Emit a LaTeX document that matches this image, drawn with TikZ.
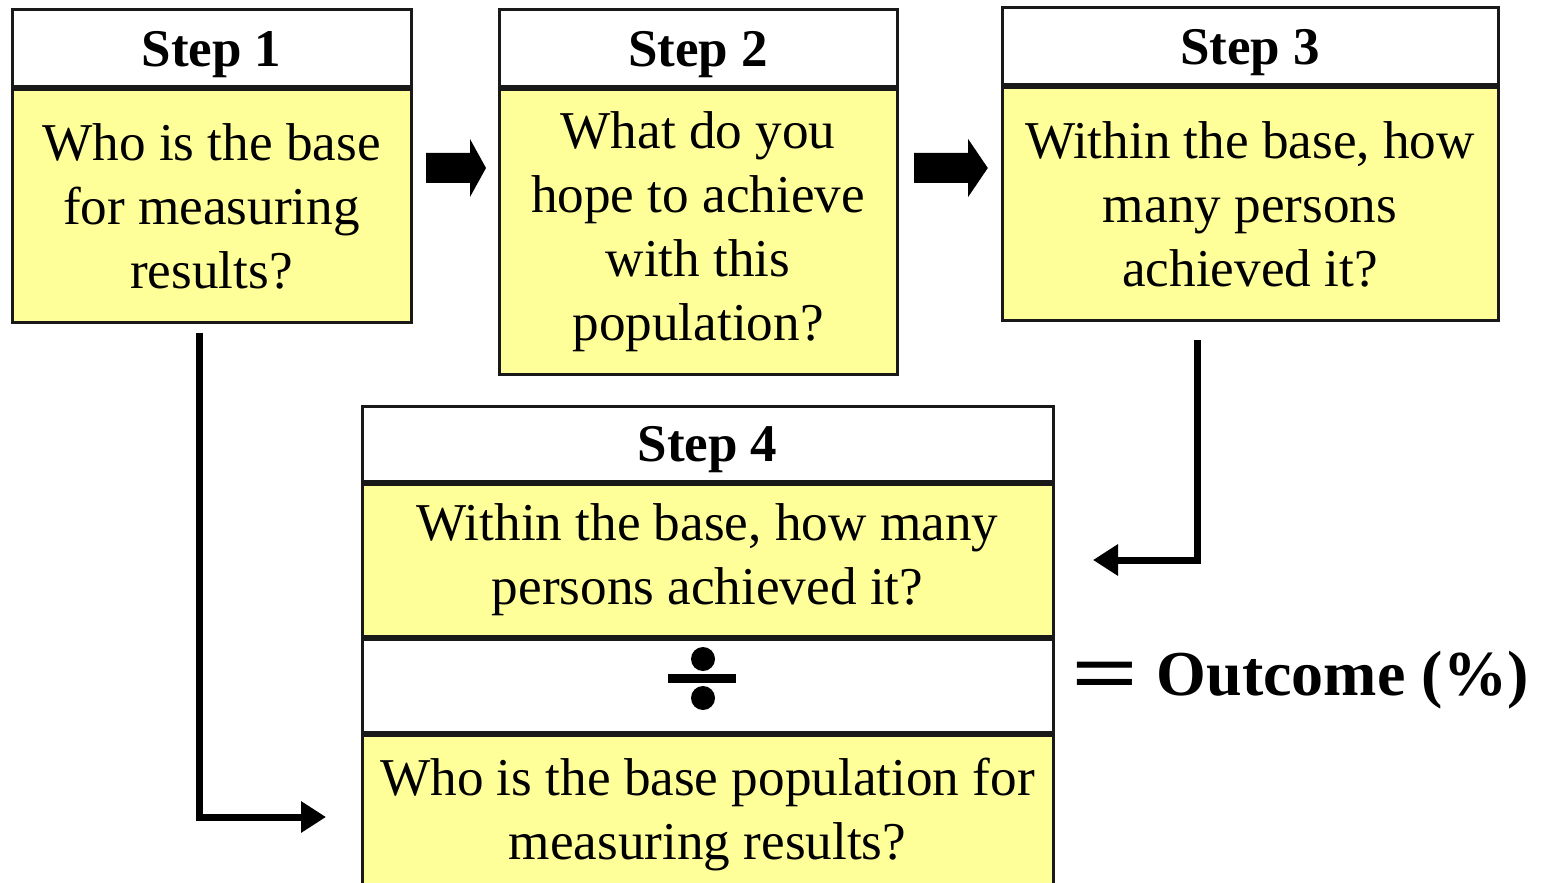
\documentclass[tikz,border=0pt]{standalone}
\usepackage{fontspec}
\setmainfont{Liberation Serif}
\usetikzlibrary{arrows.meta,positioning}
\definecolor{BodyClr}{rgb}{1,1,0.6}
\definecolor{LineClr}{rgb}{0.1,0.1,0.1}

\begin{document}
\begin{tikzpicture}[x=0.5pt,y=-0.5pt,
  head/.style={draw=LineClr,line width=1.5pt,fill=white,inner sep=0pt,text depth=0pt,
    font=\fontsize{26.5}{30}\selectfont\bfseries},
  body/.style={draw=LineClr,line width=1.5pt,fill=BodyClr,inner sep=0pt,
    align=center,font=\fontsize{26.6}{32}\selectfont},
  conn/.style={line width=3.5pt,-{Triangle[length=12.5pt,width=15pt]}},
  fatarrow/.pic={\fill (0,-15) -- (44,-15) -- (44,-29) -- (60,0) -- (44,29)
    -- (44,15) -- (0,15) -- cycle;}]
\useasboundingbox (0,0) rectangle (1543,883);

% top row
\node[head,minimum width=199.5pt,minimum height=38.5pt] (hd1) at (211.5,48.5) {Step 1};
\node[body,minimum width=199.5pt,minimum height=116pt,below=0pt of hd1] (base)
  {Who is the base\\for measuring\\results?};

\node[head,minimum width=199pt,minimum height=38.5pt] (hd2) at (698,48.5) {Step 2};
\node[body,minimum width=199pt,minimum height=142pt,below=0pt of hd2] (goal)
  {What do you\\hope to achieve\\with this\\population?};

\node[head,minimum width=248pt,minimum height=38.5pt] (hd3) at (1250,46.5) {Step 3};
\node[body,minimum width=248pt,minimum height=116pt,below=0pt of hd3] (count)
  {Within the base, how\\many persons\\achieved it?};

\pic at (426,168) {fatarrow};
\pic[xscale=1.23] at (914,168) {fatarrow};

% step 4
\node[head,minimum width=345.5pt,minimum height=37.5pt] (hd4) at (707.5,443.5) {Step 4};
\node[body,minimum width=345.5pt,minimum height=76pt,below=0pt of hd4] (num)
  {Within the base, how many\\persons achieved it?};
\node[body,fill=white,minimum width=345.5pt,minimum height=46.5pt,below=0pt of num] (div) {};
\node[body,minimum width=345.5pt,minimum height=80pt,below=0pt of div] (den)
  {Who is the base population for\\measuring results?};

% division sign
\fill (703,659) circle[radius=12];
\fill (703,698) circle[radius=12];
\fill (668,674) rectangle (736,683);

\node[anchor=base west,inner sep=0pt,font=\fontsize{32}{36}\selectfont\bfseries]
  (outcome) at (1071,695) {\raisebox{-3.5pt}{\scalebox{1.85}[1.35]{=}}\hspace{9pt}Outcome (\%)};

% connectors
\coordinate (c1) at (199,333);
\coordinate (c2) at (326,817);
\coordinate (c3) at (1197,340);
\coordinate (c4) at (1093,560);
\draw[conn] (c1) |- (c2);
\draw[conn] (c3) |- (c4);

\end{tikzpicture}
\end{document}
